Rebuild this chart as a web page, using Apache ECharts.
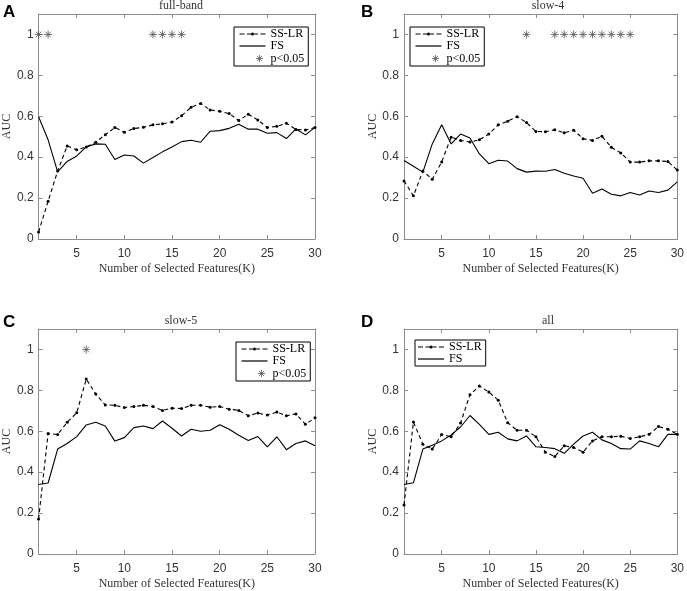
<!DOCTYPE html>
<html><head><meta charset="utf-8">
<script src="https://cdn.jsdelivr.net/npm/echarts@6/dist/echarts.min.js"></script>
<style>html,body{margin:0;padding:0;background:#fff}#c{width:687px;height:591px}</style>
</head><body><div id="c"></div>
<script>
const K = Array.from({length:30},(_,i)=>i+1);
const xTicks = [5,10,15,20,25,30];
const yTicks = [0,0.2,0.4,0.6,0.8,1];

const titles = ['full-band','slow-4','slow-5','all'];
const letters = ['A','B','C','D'];

const ssA = [0.034,0.185,0.332,0.455,0.436,0.45,0.473,0.51,0.545,0.522,0.54,0.546,0.558,0.563,0.572,0.602,0.644,0.663,0.631,0.624,0.613,0.579,0.61,0.582,0.545,0.551,0.566,0.535,0.533,0.545];
const fsA = [0.598,0.485,0.328,0.379,0.406,0.45,0.465,0.463,0.389,0.411,0.406,0.371,0.398,0.426,0.45,0.476,0.483,0.473,0.527,0.53,0.541,0.561,0.537,0.537,0.517,0.52,0.491,0.538,0.509,0.546];
const starA = [1,2,13,14,15,16];

const ssB = [0.284,0.211,0.332,0.292,0.377,0.498,0.482,0.474,0.485,0.513,0.558,0.576,0.598,0.569,0.526,0.524,0.534,0.519,0.532,0.49,0.482,0.502,0.448,0.421,0.376,0.376,0.382,0.382,0.379,0.337];
const fsB = [0.384,0.356,0.327,0.465,0.558,0.465,0.513,0.494,0.416,0.368,0.385,0.381,0.344,0.327,0.332,0.331,0.34,0.321,0.308,0.297,0.224,0.244,0.219,0.211,0.227,0.215,0.235,0.227,0.239,0.279];
const starB = [14,17,18,19,20,21,22,23,24,25];

const ssC = [0.171,0.589,0.584,0.644,0.69,0.855,0.782,0.729,0.727,0.716,0.721,0.727,0.721,0.702,0.713,0.711,0.727,0.727,0.718,0.721,0.708,0.702,0.676,0.689,0.679,0.694,0.676,0.685,0.634,0.666];
const fsC = [0.34,0.347,0.513,0.54,0.574,0.631,0.644,0.626,0.552,0.569,0.618,0.626,0.613,0.65,0.615,0.577,0.61,0.6,0.605,0.632,0.61,0.581,0.555,0.574,0.524,0.573,0.51,0.54,0.553,0.529];
const starC = [6];

const ssD = [0.239,0.645,0.537,0.513,0.584,0.573,0.64,0.779,0.821,0.792,0.752,0.642,0.605,0.605,0.573,0.498,0.477,0.529,0.521,0.498,0.553,0.573,0.573,0.576,0.565,0.573,0.585,0.623,0.61,0.585];
const fsD = [0.34,0.348,0.513,0.532,0.553,0.582,0.621,0.677,0.634,0.585,0.595,0.563,0.553,0.577,0.524,0.521,0.515,0.492,0.537,0.577,0.595,0.558,0.54,0.515,0.513,0.553,0.54,0.524,0.585,0.585];
const starD = [];

const panels = [
  {ss:ssA, fs:fsA, star:starA},
  {ss:ssB, fs:fsB, star:starB},
  {ss:ssC, fs:fsC, star:starC},
  {ss:ssD, fs:fsD, star:starD}
];

const grids = [
  {left:37, top:14, width:278, height:225},
  {left:404, top:14, width:278, height:225},
  {left:37, top:329, width:278, height:227},
  {left:404, top:329, width:278, height:227}
];
const legendPos = [
  {left:234, top:27},
  {left:410, top:27},
  {left:236, top:342},
  {left:415, top:340}
];
const letterPos = [[3,4],[361,4],[3,314],[361,314]];

const AX = '#8c8c8c';
const SERIF = '"Liberation Serif","Times New Roman",serif';
const SANS = '"Liberation Sans",Arial,sans-serif';
const STAR = 'path://M0,-5L0,5M-5,0L5,0M-3.5,-3.5L3.5,3.5M-3.5,3.5L3.5,-3.5';
// legend icons in a 26x8 box
const ICON_SS = 'path://M0,0M26,8M0,3.5h5v1h-5zM7.5,3.5h4v1h-4zM14.5,3.5h4v1h-4zM21,3.5h5v1h-5zM14.5,4a1.5,1.5 0 1,0 -3,0a1.5,1.5 0 1,0 3,0z';
const ICON_FS = 'path://M0,0M26,8M0,3.4h26v1.2h-26z';
const ICON_ST = 'path://M-13,-4M13,4M7,-3.5L7,3.5M3.5,0L10.5,0M4.5,-2.5L9.5,2.5M4.5,2.5L9.5,-2.5';

const option = {
  animation:false,
  backgroundColor:'#fff',
  grid: grids,
  title: [],
  legend: [],
  xAxis: [], yAxis: [], series: [], graphic: []
};

grids.forEach((g,i)=>{
  const p = panels[i];
  option.title.push({text:titles[i], left:g.left+g.width/2, top:g.top-19, textAlign:'center',
    textStyle:{fontFamily:SERIF, fontSize:12, fontWeight:'normal', color:'#333'}});
  option.graphic.push({type:'text', left:letterPos[i][0], top:letterPos[i][1],
    style:{text:letters[i], font:'bold 17px '+SANS, fill:'#000'}});
  option.xAxis.push({type:'value', gridIndex:i, min:1, max:30, position:'bottom',
    name:'Number of Selected Features(K)', nameLocation:'middle', nameGap:24,
    nameTextStyle:{fontFamily:SERIF, fontSize:12, color:'#333'},
    axisLine:{onZero:false, lineStyle:{color:AX}},
    axisTick:{inside:true, length:4, lineStyle:{color:AX}, customValues:xTicks},
    axisLabel:{fontFamily:SANS, fontSize:12, color:'#333', margin:9, customValues:xTicks},
    splitLine:{show:false}});
  option.xAxis.push({type:'value', gridIndex:i, min:1, max:30, position:'top',
    axisLine:{onZero:false, lineStyle:{color:AX}},
    axisTick:{inside:true, length:4, lineStyle:{color:AX}, customValues:xTicks},
    axisLabel:{show:false}, splitLine:{show:false}});
  option.yAxis.push({type:'value', gridIndex:i, min:0, max:1.1, position:'left',
    name:'AUC', nameLocation:'middle', nameGap:24,
    nameTextStyle:{fontFamily:SERIF, fontSize:12, color:'#333'},
    axisLine:{show:true, onZero:false, lineStyle:{color:AX}},
    axisTick:{show:true, inside:true, length:4, lineStyle:{color:AX}, customValues:yTicks},
    axisLabel:{fontFamily:SANS, fontSize:12, color:'#333', margin:5, customValues:yTicks,
      formatter:v=>String(Math.round(v*10)/10)},
    splitLine:{show:false}});
  option.yAxis.push({type:'value', gridIndex:i, min:0, max:1.1, position:'right',
    axisLine:{show:true, onZero:false, lineStyle:{color:AX}},
    axisTick:{show:true, inside:true, length:4, lineStyle:{color:AX}, customValues:yTicks},
    axisLabel:{show:false}, splitLine:{show:false}});
  const xi = i*2, yi = i*2;
  const items = [{name:'SS-LR', icon:ICON_SS}, {name:'FS', icon:ICON_FS}];
  option.series.push({name:'SS-LR', type:'line', xAxisIndex:xi, yAxisIndex:yi,
    data:K.map((k,j)=>[k,p.ss[j]]), symbol:'circle', symbolSize:3, showSymbol:true,
    lineStyle:{color:'#000', width:1.1, type:[4,3]}, itemStyle:{color:'#000'}, z:3});
  option.series.push({name:'FS', type:'line', xAxisIndex:xi, yAxisIndex:yi,
    data:K.map((k,j)=>[k,p.fs[j]]), symbol:'none', showSymbol:false,
    lineStyle:{color:'#000', width:1.1}, itemStyle:{color:'#000'}, z:2});
  if (i !== 3) {
    items.push({name:'p<0.05', icon:ICON_ST,
      itemStyle:{color:'none', borderColor:'#555', borderWidth:1}});
    option.series.push({name:'p<0.05', type:'scatter', xAxisIndex:xi, yAxisIndex:yi,
      data:p.star.map(k=>[k,1]), symbol:STAR, symbolSize:8,
      itemStyle:{color:'none', borderColor:'#555', borderWidth:1}});
  }
  option.legend.push({data:items, orient:'vertical', left:legendPos[i].left, top:legendPos[i].top,
    backgroundColor:'#fff', borderColor:'#000', borderWidth:1, padding:[1,4,1,3], itemGap:0,
    itemWidth:26, itemHeight:8, selectedMode:false,
    textStyle:{fontFamily:SERIF, fontSize:12, lineHeight:12, color:'#000'}});
});

const chart = echarts.init(document.getElementById('c'), null, {renderer:'canvas'});
chart.setOption(option);
</script></body></html>
